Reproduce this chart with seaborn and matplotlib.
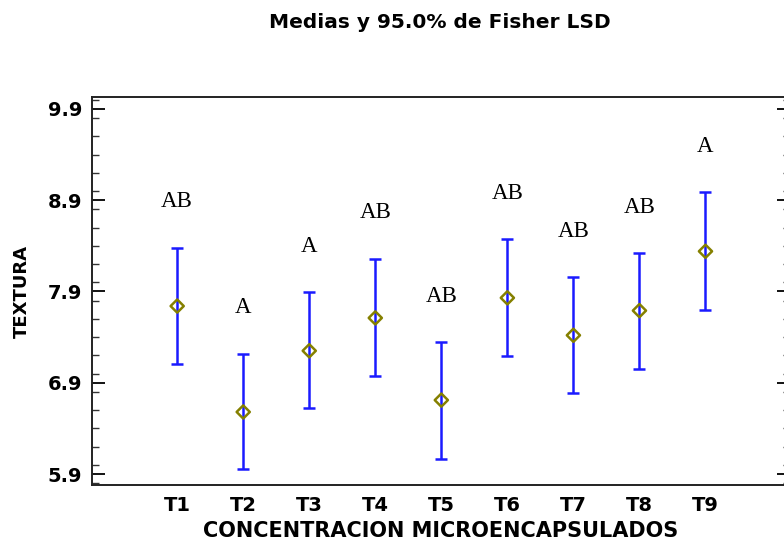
import numpy as np
import pandas as pd
import matplotlib
matplotlib.use("Agg")
import matplotlib.pyplot as plt
import seaborn as sns
from matplotlib.ticker import MultipleLocator, FixedLocator

# Treatment means and 95% Fisher LSD interval bounds for texture
treatments = ["T1", "T2", "T3", "T4", "T5", "T6", "T7", "T8", "T9"]
means = [7.74, 6.58, 7.25, 7.61, 6.71, 7.83, 7.42, 7.69, 8.34]
lower = [7.11, 5.96, 6.62, 6.97, 6.07, 7.19, 6.79, 7.05, 7.70]
upper = [8.38, 7.22, 7.89, 8.26, 7.35, 8.47, 8.06, 8.32, 8.99]
groups = ["AB", "A", "A", "AB", "AB", "AB", "AB", "AB", "A"]
y_ticks = [5.9, 6.9, 7.9, 8.9, 9.9]

df = pd.DataFrame({"trat": treatments, "media": means,
                   "inf": lower, "sup": upper, "grupo": groups})
df["pos"] = np.arange(len(df))

sns.set_theme(style="white")
plt.rcParams["font.family"] = ["DejaVu Sans"]

fig = plt.figure(figsize=(7.84, 5.40), dpi=100)
ax = fig.add_axes([92 / 784, 55 / 540, 698 / 784, 388 / 540])

# LSD interval bars
ax.errorbar(df["pos"], df["media"],
            yerr=[df["media"] - df["inf"], df["sup"] - df["media"]],
            fmt="none", ecolor="#1a1aff", elinewidth=1.8, capsize=4.5,
            capthick=1.8, zorder=2)

# Means as hollow diamonds
sns.scatterplot(data=df, x="pos", y="media", marker="D", s=45,
                facecolors="none", edgecolor="#858000", linewidth=1.8,
                ax=ax, zorder=3, legend=False)

# Homogeneous group letters above each interval
for _, r in df.iterrows():
    ax.text(r["pos"], r["sup"] + 0.50, r["grupo"], ha="center", va="center",
            fontsize=16.5, family="Liberation Serif", color="black")

ax.set_xlim(-1.29, 9.28)
ax.set_ylim(5.78, 10.03)
ax.set_xticks(df["pos"])
ax.set_xticklabels(treatments)
ax.yaxis.set_major_locator(FixedLocator(y_ticks))
ax.yaxis.set_minor_locator(MultipleLocator(0.2))
ax.set_yticklabels([f"{v:.1f}" for v in y_ticks])

ax.tick_params(axis="y", which="major", direction="in", length=9.5,
               width=1.3, left=True, right=True, labelsize=14, pad=7,
               color="black")
ax.tick_params(axis="y", which="minor", direction="in", length=5,
               width=1.0, left=True, right=True, color="#333333")
ax.tick_params(axis="x", which="both", length=0, labelsize=14, pad=8)
for lab in ax.get_xticklabels() + ax.get_yticklabels():
    lab.set_fontweight("bold")
    lab.set_color("black")

for sp in ax.spines.values():
    sp.set_color("#222222")
    sp.set_linewidth(1.4)

ax.set_xlabel("CONCENTRACION MICROENCAPSULADOS", fontsize=15,
              fontweight="bold", color="black", labelpad=4)
ax.set_ylabel("TEXTURA", fontsize=13, fontweight="bold", color="black",
              labelpad=12)

fig.text(440 / 784, 1 - 22 / 540, "Medias y 95.0% de Fisher LSD",
         ha="center", va="center", fontsize=14.5, fontweight="bold",
         color="black")

fig.savefig("out.png", dpi=100)
